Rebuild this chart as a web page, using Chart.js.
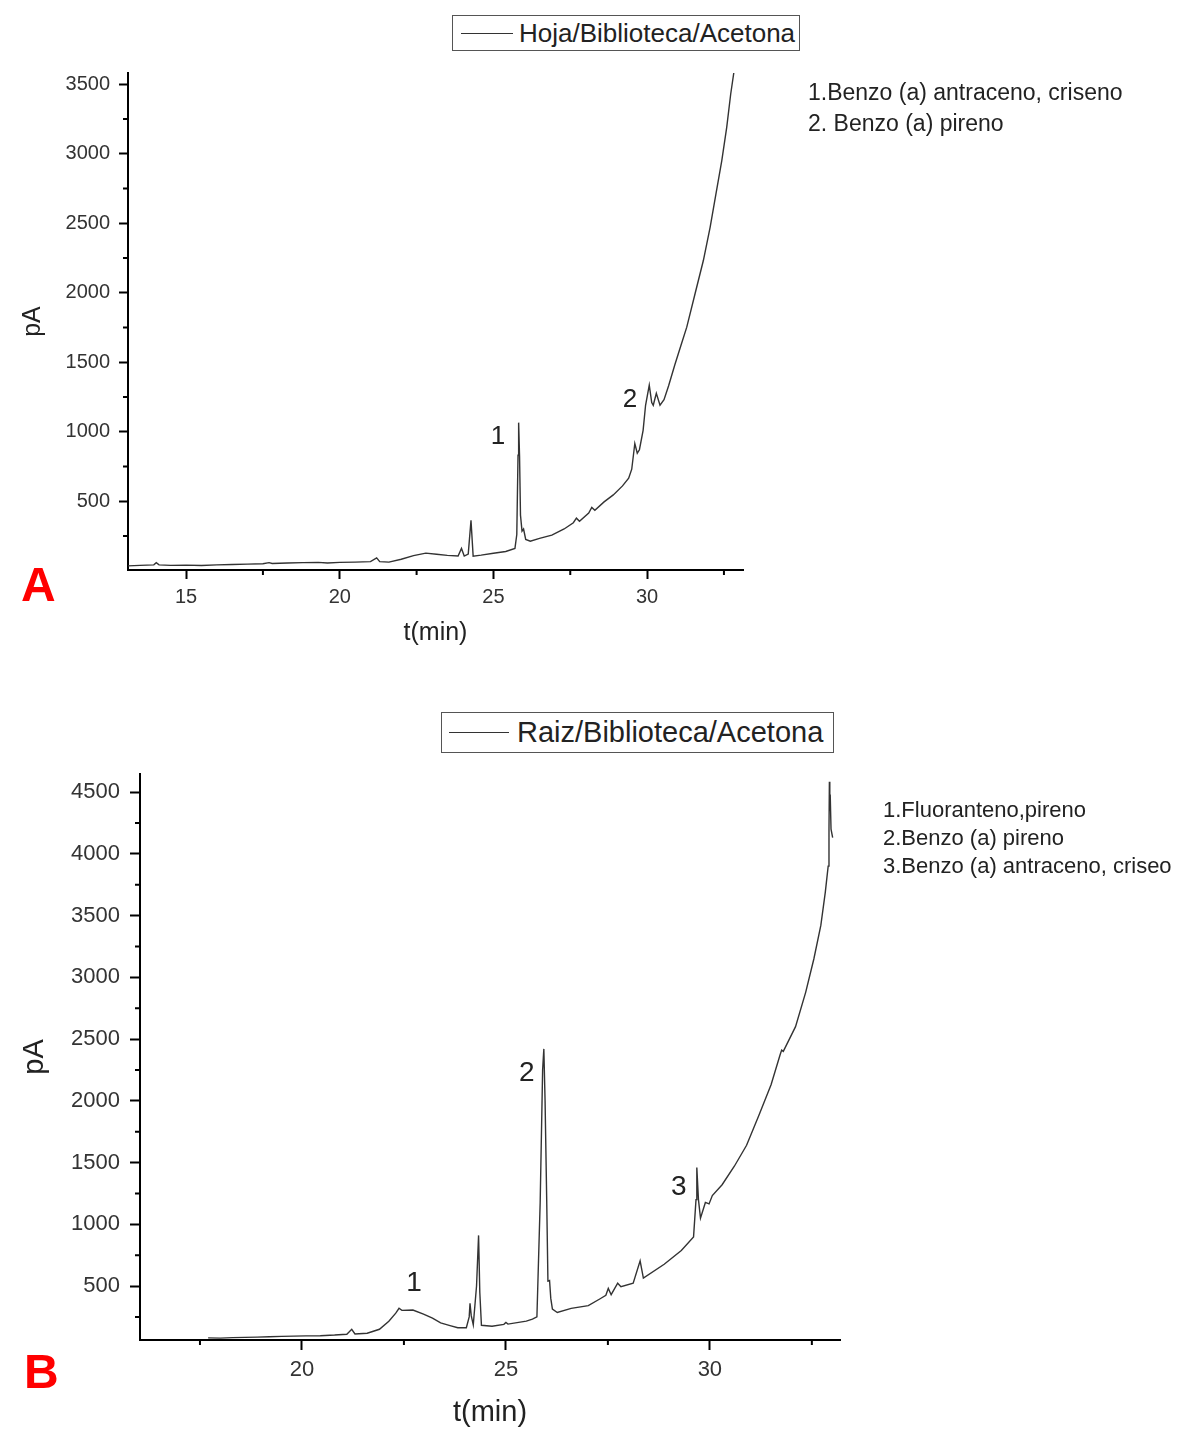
<!DOCTYPE html>
<html lang="es">
<head>
<meta charset="utf-8">
<title>Cromatogramas Hoja / Raiz</title>
<script src="https://cdn.jsdelivr.net/npm/chart.js@4.4.0/dist/chart.umd.min.js"></script>
<style>
  html, body { margin: 0; padding: 0; background: #ffffff; }
  #wrap { position: relative; width: 1183px; height: 1431px; overflow: hidden; background: #ffffff;
          font-family: "Liberation Sans", Arial, sans-serif; color: #222; }
  canvas { position: absolute; left: 0; }
  .legend { position: absolute; border: 1.5px solid #555; background: #fff; box-sizing: border-box; white-space: nowrap; }
  .legend .sample { position: absolute; border-top: 1.5px solid #333; }
  .legend .txt { position: absolute; color: #222; }
  .list { position: absolute; white-space: nowrap; color: #222; }
  .panel { position: absolute; color: #ff0000; font-weight: bold; font-size: 48px; line-height: 48px; }
</style>
</head>
<body>
<div id="wrap">
  <canvas id="chartA" width="1183" height="660" style="top:0px"></canvas>
  <canvas id="chartB" width="1183" height="771" style="top:660px"></canvas>

  <div class="legend" style="left:452px; top:15px; width:348px; height:36px;">
    <div class="sample" style="left:8px; top:17px; width:52px;"></div>
    <div class="txt" style="left:66px; top:2px; font-size:26px; line-height:30px;">Hoja/Biblioteca/Acetona</div>
  </div>
  <div class="list" style="left:808px; top:77px; font-size:23px; line-height:31px;">
    1.Benzo (a) antraceno, criseno<br>2. Benzo (a) pireno
  </div>
  <div class="panel" style="left:21px; top:561px;">A</div>

  <div class="legend" style="left:441px; top:712px; width:393px; height:41px;">
    <div class="sample" style="left:7px; top:19px; width:60px;"></div>
    <div class="txt" style="left:75px; top:2px; font-size:29px; line-height:34px;">Raiz/Biblioteca/Acetona</div>
  </div>
  <div class="list" style="left:883px; top:796px; font-size:22px; line-height:28px;">
    1.Fluoranteno,pireno<br>2.Benzo (a) pireno<br>3.Benzo (a) antraceno, criseo
  </div>
  <div class="panel" style="left:24px; top:1348px;">B</div>
</div>

<script>
// ---------------- Data: panel A (Hoja/Biblioteca/Acetona) ----------------
const timesA = [13.11, 13.5, 13.95, 14.03, 14.12, 14.5, 15.0, 15.5, 16.0, 16.5, 17.0, 17.5, 17.7, 17.8, 18.3, 18.8, 19.3, 19.6, 20.0, 20.5,
  21.0, 21.2, 21.3, 21.6, 22.0, 22.4, 22.8, 23.15, 23.5, 23.85, 23.96, 24.05, 24.18, 24.27, 24.34, 24.6, 25.0, 25.4, 25.7, 25.76,
  25.8, 25.82, 25.85, 25.88, 25.93, 25.98, 26.05, 26.2, 26.5, 26.9, 27.3, 27.6, 27.7, 27.8, 28.1, 28.2, 28.3, 28.6, 28.9, 29.2,
  29.4, 29.5, 29.6, 29.68, 29.75, 29.87, 29.95, 30.07, 30.15, 30.2, 30.3, 30.42, 30.55, 30.7, 30.9, 31.1, 31.29, 31.56, 31.83, 32.05,
  32.24, 32.43, 32.59, 32.72, 32.82];
const signalA = [35, 38, 42, 58, 42, 38, 40, 37, 42, 45, 47, 50, 58, 52, 55, 58, 60, 55, 60, 62,
  65, 92, 65, 62, 82, 108, 126, 118, 110, 106, 160, 105, 120, 363, 105, 112, 125, 138, 160, 260,
  830, 1065, 820, 400, 285, 300, 225, 212, 232, 256, 300, 345, 378, 355, 415, 455, 435, 495, 545, 610,
  665, 730, 915, 845, 870, 1010, 1190, 1335, 1210, 1190, 1276, 1190, 1230, 1330, 1480, 1620, 1752, 1992, 2231, 2470,
  2710, 2950, 3189, 3429, 3580];

// ---------------- Data: panel B (Raiz/Biblioteca/Acetona) ----------------
const timesB = [17.7, 18.0, 18.3, 18.6, 18.9, 19.2, 19.5, 19.8, 20.1, 20.45, 20.8, 21.1, 21.22, 21.3, 21.6, 21.9, 22.13, 22.3, 22.38, 22.45,
  22.72, 22.98, 23.2, 23.4, 23.63, 23.82, 24.03, 24.1, 24.12, 24.15, 24.2, 24.28, 24.33, 24.36, 24.4, 24.66, 24.95, 25.0, 25.05, 25.5,
  25.65, 25.76, 25.84, 25.9, 25.93, 25.96, 26.0, 26.03, 26.07, 26.1, 26.14, 26.26, 26.6, 27.02, 27.3, 27.45, 27.51, 27.58, 27.74, 27.82,
  28.12, 28.29, 28.37, 28.88, 29.3, 29.6, 29.66, 29.68, 29.72, 29.77, 29.89, 29.98, 30.06, 30.3, 30.6, 30.9, 31.2, 31.5, 31.72, 31.76,
  31.8, 32.1, 32.35, 32.55, 32.72, 32.83, 32.9, 32.92, 32.93, 32.94, 32.95, 32.97, 33.01];
const signalB = [80, 78, 82, 84, 86, 89, 92, 94, 96, 98, 103, 110, 150, 112, 118, 150, 215, 280, 320, 303,
  306, 272, 240, 202, 180, 162, 162, 250, 361, 260, 185, 500, 910, 450, 182, 174, 190, 205, 192, 216,
  232, 250, 1177, 2250, 2420, 2000, 1200, 540, 545, 400, 314, 286, 319, 341, 395, 425, 481, 430, 523, 495,
  523, 704, 564, 676, 787, 898, 1200, 1460, 1200, 1050, 1177, 1165, 1233, 1320, 1470, 1640, 1880, 2130, 2370, 2410,
  2400, 2600, 2880, 3150, 3420, 3690, 3900, 4200, 4583, 4350, 4480, 4200, 4130];

// ---------------- Axis ticks ----------------
const xTicksA = [15, 20, 25, 30];
const xMinorA = [17.5, 22.5, 27.5, 32.5];
const yTicksA = [500, 1000, 1500, 2000, 2500, 3000, 3500];
const yMinorA = [250, 750, 1250, 1750, 2250, 2750, 3250];
const xTicksB = [20, 25, 30];
const xMinorB = [17.5, 22.5, 27.5, 32.5];
const yTicksB = [500, 1000, 1500, 2000, 2500, 3000, 3500, 4000, 4500];
const yMinorB = [250, 750, 1250, 1750, 2250, 2750, 3250, 3750, 4250];

// ---------------- Peak labels (placed in data units) ----------------
const peakTextA = ['1', '2'];
const peakTimeA = [25.15, 29.44];
const peakValA = [960, 1226];
const peakTextB = ['1', '2', '3'];
const peakTimeB = [22.75, 25.51, 29.24];
const peakValB = [524, 2225, 1302];

const FONT = '"Liberation Sans", Arial, sans-serif';

const minorTicksPlugin = {
  id: 'minorTicks',
  afterDraw(chart, args, opts) {
    const ctx = chart.ctx, xs = chart.scales.x, ys = chart.scales.y, ca = chart.chartArea;
    ctx.save();
    ctx.strokeStyle = '#000';
    ctx.lineWidth = 2;
    ctx.beginPath();
    (opts.x || []).forEach(v => {
      const px = xs.getPixelForValue(v);
      ctx.moveTo(px, ca.bottom); ctx.lineTo(px, ca.bottom + opts.len);
    });
    (opts.y || []).forEach(v => {
      const py = ys.getPixelForValue(v);
      ctx.moveTo(ca.left, py); ctx.lineTo(ca.left - opts.len, py);
    });
    ctx.stroke();
    ctx.restore();
  }
};

const peakLabelPlugin = {
  id: 'peakLabels',
  afterDatasetsDraw(chart, args, opts) {
    const ctx = chart.ctx, xs = chart.scales.x, ys = chart.scales.y;
    ctx.save();
    ctx.fillStyle = '#222';
    ctx.font = opts.size + 'px ' + FONT;
    ctx.textAlign = 'center';
    ctx.textBaseline = 'middle';
    opts.text.forEach((t, i) => {
      ctx.fillText(t, xs.getPixelForValue(opts.times[i]), ys.getPixelForValue(opts.values[i]));
    });
    ctx.restore();
  }
};

function makeChart(id, cfg) {
  const pts = cfg.times.map((t, i) => ({ x: t, y: cfg.values[i] }));
  return new Chart(document.getElementById(id), {
    type: 'scatter',
    data: {
      datasets: [{
        label: cfg.label,
        data: pts,
        showLine: true,
        borderColor: '#333333',
        borderWidth: 1.4,
        pointRadius: 0,
        pointHoverRadius: 0,
        tension: 0,
        fill: false
      }]
    },
    options: {
      responsive: false,
      animation: false,
      devicePixelRatio: 1,
      events: [],
      layout: { padding: { left: 0, top: cfg.padTop, right: cfg.padRight, bottom: 0 } },
      plugins: {
        legend: { display: false },
        tooltip: { enabled: false },
        minorTicks: { x: cfg.xMinor, y: cfg.yMinor, len: 5 },
        peakLabels: { text: cfg.peakText, times: cfg.peakTime, values: cfg.peakVal, size: cfg.peakSize }
      },
      scales: {
        x: {
          type: 'linear',
          min: cfg.xMin, max: cfg.xMax,
          afterFit: s => { s.height = cfg.xAxisH; },
          afterBuildTicks: s => { s.ticks = cfg.xTicks.map(v => ({ value: v })); },
          ticks: { color: '#333', font: { family: FONT, size: cfg.tickSize }, padding: cfg.xPad,
                   maxRotation: 0, autoSkip: false, callback: v => String(v) },
          grid: { drawOnChartArea: false, drawTicks: true, tickLength: cfg.tickLen, tickWidth: 2, tickColor: '#000' },
          border: { display: true, color: '#000', width: 2 },
          title: { display: true, text: 't(min)', color: '#222', font: { family: FONT, size: cfg.titleSize },
                   padding: { top: 0, bottom: cfg.xTitlePad } }
        },
        y: {
          type: 'linear',
          min: cfg.yMin, max: cfg.yMax,
          afterFit: s => { s.width = cfg.yAxisW; },
          afterBuildTicks: s => { s.ticks = cfg.yTicks.map(v => ({ value: v })); },
          ticks: { color: '#333', font: { family: FONT, size: cfg.tickSize }, padding: cfg.yPad,
                   autoSkip: false, callback: v => String(v) },
          grid: { drawOnChartArea: false, drawTicks: true, tickLength: cfg.tickLen, tickWidth: 2, tickColor: '#000' },
          border: { display: true, color: '#000', width: 2 },
          title: { display: true, text: 'pA', color: '#222', font: { family: FONT, size: cfg.titleSize },
                   padding: { top: cfg.yTitlePad, bottom: 0 } }
        }
      }
    },
    plugins: [minorTicksPlugin, peakLabelPlugin]
  });
}

makeChart('chartA', {
  label: 'Hoja/Biblioteca/Acetona',
  times: timesA, values: signalA,
  xMin: 13.11, xMax: 33.12, yMin: 5, yMax: 3580,
  xTicks: xTicksA, yTicks: yTicksA, xMinor: xMinorA, yMinor: yMinorA,
  padTop: 73, padRight: 1183 - 743, xAxisH: 660 - 570, yAxisW: 128,
  tickSize: 20, tickLen: 9, xPad: 6, yPad: 9,
  titleSize: 25, xTitlePad: 12, yTitlePad: 18,
  peakText: peakTextA, peakTime: peakTimeA, peakVal: peakValA, peakSize: 26
});

makeChart('chartB', {
  label: 'Raiz/Biblioteca/Acetona',
  times: timesB, values: signalB,
  xMin: 16.03, xMax: 33.19, yMin: 63, yMax: 4646,
  xTicks: xTicksB, yTicks: yTicksB, xMinor: xMinorB, yMinor: yMinorB,
  padTop: 774 - 660, padRight: 1183 - 840, xAxisH: 771 - (1340 - 660), yAxisW: 140,
  tickSize: 22, tickLen: 10, xPad: 7, yPad: 10,
  titleSize: 29, xTitlePad: 1, yTitlePad: 18,
  peakText: peakTextB, peakTime: peakTimeB, peakVal: peakValB, peakSize: 28
});
</script>
</body>
</html>
